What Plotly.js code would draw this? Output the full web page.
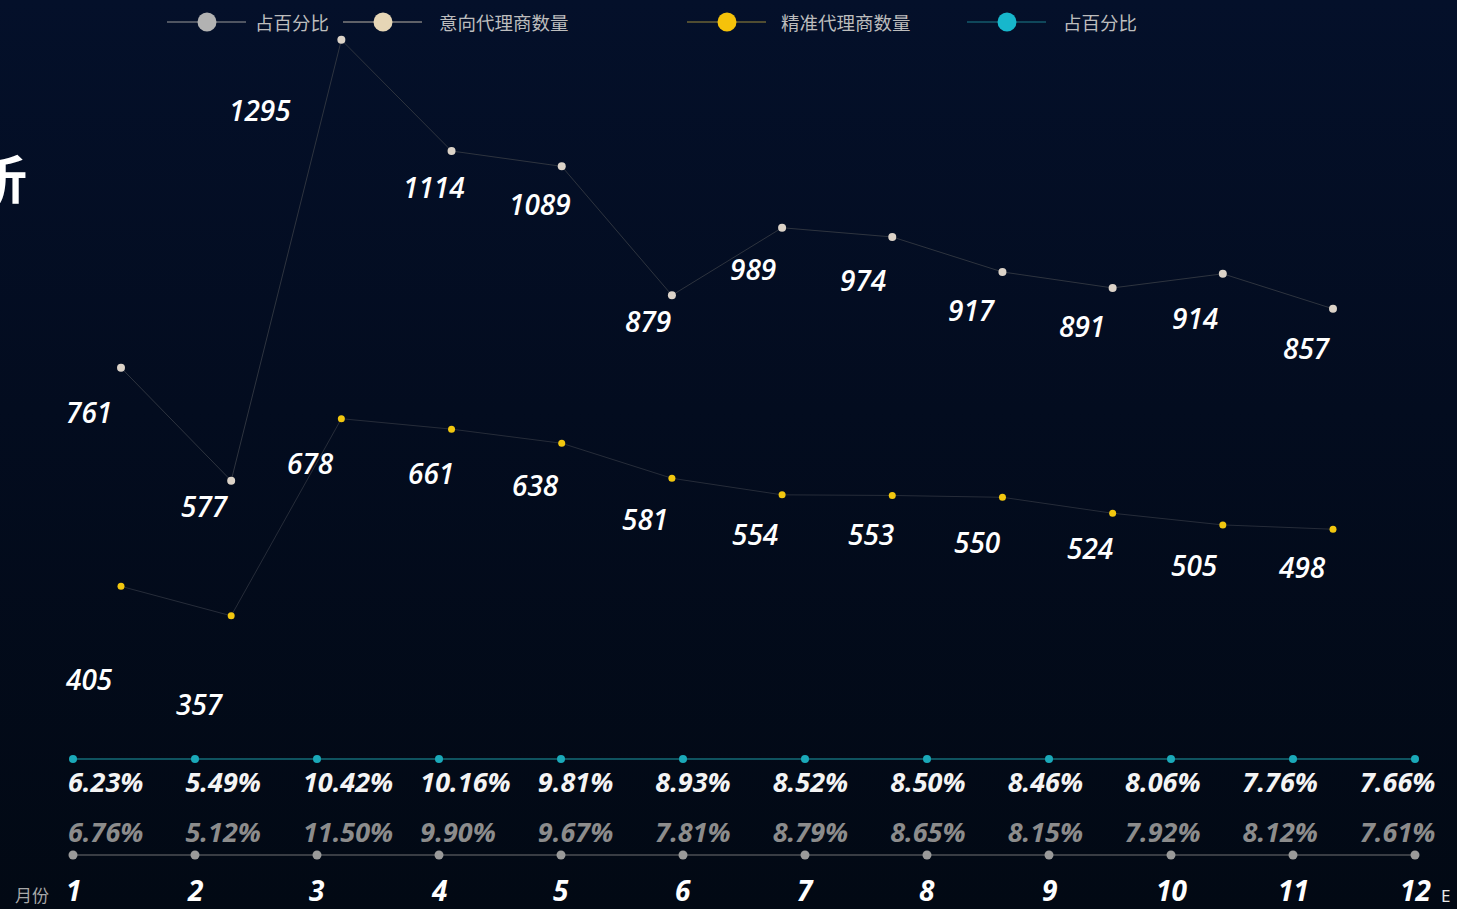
<!DOCTYPE html>
<html>
<head>
<meta charset="utf-8">
<script src="https://cdn.plot.ly/plotly-3.0.1.min.js"></script>
<style>
html,body{margin:0;padding:0;width:1457px;height:909px;overflow:hidden;
background:linear-gradient(180deg,#04102a 0%,#030c1f 45%,#020914 100%);}
#chart{width:1457px;height:909px;}
</style>
</head>
<body>
<div id="chart"></div>
<script>
// ---- data ----
const months = [1,2,3,4,5,6,7,8,9,10,11,12];
const monthLabels = ['1','2','3','4','5','6','7','8','9','10','11','12'];
const intentCount = [761,577,1295,1114,1089,879,989,974,917,891,914,857];
const preciseCount = [405,357,678,661,638,581,554,553,550,524,505,498];
const preciseShare = ['6.23%','5.49%','10.42%','10.16%','9.81%','8.93%','8.52%','8.50%','8.46%','8.06%','7.76%','7.66%'];
const intentShare = ['6.76%','5.12%','11.50%','9.90%','9.67%','7.81%','8.79%','8.65%','8.15%','7.92%','8.12%','7.61%'];

// ---- styles ----
const W = 1457, H = 909;
const C = {
  intent:'#dcd3c8', intentLine:'#2e343f',
  precise:'#f2c70f', preciseLine:'#262c39',
  teal:'#1aa9b9', tealLine:'#156d79',
  gray:'#9a9a9a', grayLine:'#4c4f55',
  legendText:'#bdbdbd'
};
const labelFont = {family:'Open Sans, Noto Sans, sans-serif', size:28, color:'#ffffff', style:'italic', weight:600};
const pctFont = {family:'Open Sans, Noto Sans, sans-serif', size:27, style:'italic', weight:700};

// label offsets in pixels [dx, dy(down)] — styling only
const intentLabelShift = [[-32,44],[-26,25],[-81,70],[-18,36],[-22,38],[-24,26],[-29,41],[-29,43],[-30,38],[-31,38],[-28,44],[-26,39]];
const preciseLabelShift = [[-32,93],[-31,88],[-31,44],[-21,44],[-26,42],[-27,41],[-27,39],[-21,39],[-25,45],[-23,35],[-28,40],[-31,38]];

// row positions (0 = teal row, 1 = grey row) on yaxis2
const tealRow = months.map(() => 0);
const grayRow = months.map(() => 1);

const traces = [
  {x:months, y:intentCount, name:'意向代理商数量', type:'scatter', mode:'lines+markers',
   line:{color:C.intentLine, width:1}, marker:{color:C.intent, size:8}, xaxis:'x', yaxis:'y', hoverinfo:'x+y'},
  {x:months, y:preciseCount, name:'精准代理商数量', type:'scatter', mode:'lines+markers',
   line:{color:C.preciseLine, width:1}, marker:{color:C.precise, size:7}, xaxis:'x', yaxis:'y', hoverinfo:'x+y'},
  {x:months, y:tealRow, name:'占百分比', type:'scatter', mode:'lines+markers',
   line:{color:C.tealLine, width:1.5}, marker:{color:C.teal, size:8}, xaxis:'x2', yaxis:'y2',
   text:preciseShare, hoverinfo:'text'},
  {x:months, y:grayRow, name:'占百分比', type:'scatter', mode:'lines+markers',
   line:{color:C.grayLine, width:1.5}, marker:{color:C.gray, size:9}, xaxis:'x2', yaxis:'y2',
   text:intentShare, hoverinfo:'text'},
  // percentage text rows
  {x:months, y:months.map(() => 0.27), text:preciseShare, type:'scatter', mode:'text', textposition:'middle right',
   textfont:Object.assign({color:'#f4f4f4'}, pctFont),
   xaxis:'x3', yaxis:'y2', showlegend:false, hoverinfo:'skip', cliponaxis:false},
  {x:months, y:months.map(() => 0.79), text:intentShare, type:'scatter', mode:'text', textposition:'middle right',
   textfont:Object.assign({color:'#8c8c8c'}, pctFont),
   xaxis:'x3', yaxis:'y2', showlegend:false, hoverinfo:'skip', cliponaxis:false}
];

function rangeFor(p1, p12){ const s=(p12-p1)/11; return [1 - p1/s, 12 + (W-p12)/s]; }

const annotations = [];
intentCount.forEach((v,i) => {
  const s = intentLabelShift[i];
  annotations.push({x:months[i], y:v, xref:'x', yref:'y', text:String(v), showarrow:false,
    xanchor:'center', yanchor:'middle', xshift:s[0], yshift:-s[1], font:labelFont});
});
preciseCount.forEach((v,i) => {
  const s = preciseLabelShift[i];
  annotations.push({x:months[i], y:v, xref:'x', yref:'y', text:String(v), showarrow:false,
    xanchor:'center', yanchor:'middle', xshift:s[0], yshift:-s[1], font:labelFont});
});

// month labels
monthLabels.forEach((t,i) => {
  annotations.push({x:months[i], y:1 - 890/H, xref:'x2', yref:'paper', xanchor:'center', yanchor:'middle',
    text:t, showarrow:false,
    font:{family:'Open Sans, Noto Sans, sans-serif', size:28, color:'#ffffff', style:'italic', weight:700}});
});
annotations.push({x:32/W, y:1-894/H, xref:'paper', yref:'paper', xanchor:'center', yanchor:'middle', text:'月份', showarrow:false,
  font:{family:'Noto Sans CJK SC, sans-serif', size:17, color:'#a8a8a8'}});
annotations.push({x:1445/W, y:1-895/H, xref:'paper', yref:'paper', xanchor:'center', yanchor:'middle', text:'E', showarrow:false,
  font:{family:'Noto Sans, sans-serif', size:17, color:'#e8e8e8'}});
// cut-off title (only its right part is visible in the original)
annotations.push({x:29/W, y:1-176/H, xref:'paper', yref:'paper', xanchor:'right', yanchor:'middle', text:'<b>析</b>', showarrow:false,
  font:{family:'Noto Sans CJK SC, sans-serif', size:52, color:'#ffffff'}});

// custom legend
const legendItems = [
  {cx:207, text:'占百分比', tx:253, dot:'#b2b2b2', line:'#9a9a9a'},
  {cx:383, text:'意向代理商数量', tx:437, dot:'#e6d6b6', line:'#b9b2a6'},
  {cx:727, text:'精准代理商数量', tx:779, dot:'#f5c20a', line:'#9c8a3a'},
  {cx:1007, text:'占百分比', tx:1061, dot:'#17b7cc', line:'#1b7e8c'}
];
const shapes = [];
const ly = 22;
legendItems.forEach(it => {
  shapes.push({type:'line', xref:'paper', yref:'paper', x0:(it.cx-40)/W, x1:(it.cx+39)/W, y0:1-ly/H, y1:1-ly/H,
    line:{color:it.line, width:1.2}});
  shapes.push({type:'circle', xref:'paper', yref:'paper', x0:(it.cx-9.5)/W, x1:(it.cx+9.5)/W,
    y0:1-(ly+9.5)/H, y1:1-(ly-9.5)/H, fillcolor:it.dot, line:{width:0}});
  annotations.push({x:it.tx/W, y:1-ly/H, xref:'paper', yref:'paper', xanchor:'left', yanchor:'middle', text:it.text, showarrow:false,
    font:{family:'Noto Sans CJK SC, sans-serif', size:18.5, color:C.legendText}});
});

const hidden = {showgrid:false, zeroline:false, showticklabels:false, showline:false, ticks:'', fixedrange:true};
const layout = {
  width:W, height:H,
  margin:{l:0,r:0,t:0,b:0},
  paper_bgcolor:'rgba(0,0,0,0)', plot_bgcolor:'rgba(0,0,0,0)',
  showlegend:false,
  xaxis:Object.assign({}, hidden, {domain:[0,1], range:rangeFor(121,1333), anchor:'y'}),
  yaxis:Object.assign({}, hidden, {domain:[0,1], range:[-(H-835)/0.614, 835/0.614], anchor:'x'}),
  xaxis2:Object.assign({}, hidden, {overlaying:'x', range:rangeFor(73,1415), anchor:'y2'}),
  yaxis2:Object.assign({}, hidden, {overlaying:'y', range:[(H-759)/96, -759/96], anchor:'x2'}),
  xaxis3:Object.assign({}, hidden, {overlaying:'x', range:rangeFor(68,1360), anchor:'y2'}),
  annotations:annotations,
  shapes:shapes
};
Plotly.newPlot('chart', traces, layout, {displayModeBar:false});
</script>
</body>
</html>
